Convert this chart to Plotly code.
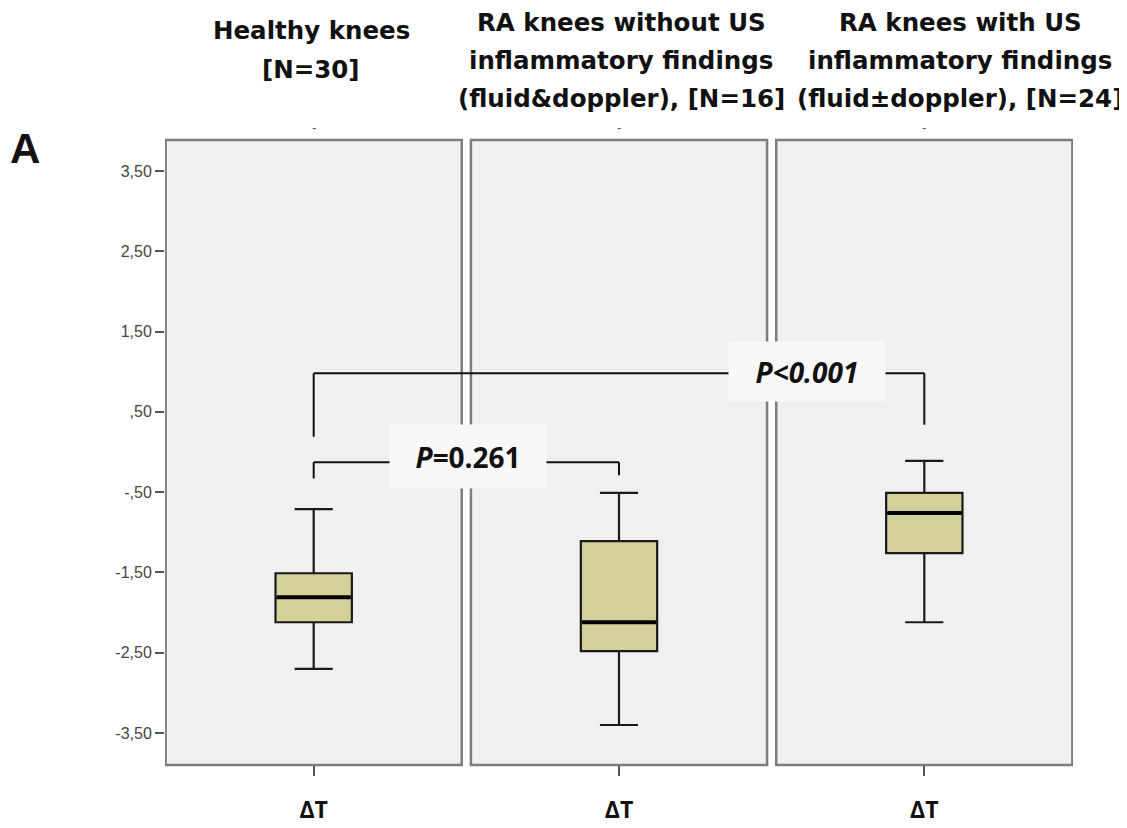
import plotly.graph_objects as go

# ---- data ----
groups = ["Healthy knees", "RA knees without US", "RA knees with US"]
title_lines = [
    ["Healthy knees", "[N=30]"],
    ["RA knees without US", "inflammatory findings", "(fluid&doppler), [N=16]"],
    ["RA knees with US", "inflammatory findings", "(fluid±doppler), [N=24]"],
]
x_labels = ["ΔT", "ΔT", "ΔT"]
upper_whisker = [-0.71, -0.51, -0.11]
q3 = [-1.51, -1.11, -0.51]
median = [-1.81, -2.12, -0.76]
q1 = [-2.12, -2.48, -1.26]
lower_whisker = [-2.70, -3.40, -2.12]

y_tickvals = [3.5, 2.5, 1.5, 0.5, -0.5, -1.5, -2.5, -3.5]
y_ticktext = ["3,50", "2,50", "1,50", ",50", "-,50", "-1,50", "-2,50", "-3,50"]

# comparisons: (group a, group b, bracket height, drop a, drop b, label, label x, label y, box h)
comparisons = [
    (0, 2, 0.98, 0.19, 0.34, "<b><i>P&lt;0.001</i></b>", 1.616, 1.0, 57),
    (0, 1, -0.126, -0.33, -0.29, "<b><i>P=</i>0.261</b>", 0.505, -0.06, 61),
]

# ---- layout geometry (window pixel targets; page has an 8px body margin) ----
OFF = 8
W, H = 1119, 820
PL, PR, PT, PB = 165, 1073, 140, 765       # plot area in window pixels
ML, MT = PL - OFF, PT - OFF
MR = W - (PR - OFF)
MB = H - (PB - OFF)
BOX_W = 0.25
HALF_PANEL = 0.485

def py(p):
    return (PB - p) / (PB - PT)

def px(p):
    return (p - PL) / (PR - PL)

fig = go.Figure()

BOX_FILL = "#d5d19b"
for i, g in enumerate(groups):
    fig.add_trace(go.Box(
        x=[i], q1=[q1[i]], median=[median[i]], q3=[q3[i]],
        lowerfence=[lower_whisker[i]], upperfence=[upper_whisker[i]],
        width=BOX_W, whiskerwidth=0.5, fillcolor=BOX_FILL,
        line=dict(color="#1a1a1a", width=2.2), boxpoints=False,
        name=g, showlegend=False, hoverinfo="skip",
    ))

shapes = []
for i in range(len(groups)):
    shapes.append(dict(type="rect", xref="x", yref="paper", x0=i - HALF_PANEL, x1=i + HALF_PANEL,
                       y0=0, y1=1, fillcolor="#f0f0f0", line=dict(color="#7d7d7d", width=2.5),
                       layer="below"))
    shapes.append(dict(type="line", xref="x", yref="y", x0=i - BOX_W / 2 + 0.004, x1=i + BOX_W / 2 - 0.004,
                       y0=median[i], y1=median[i], line=dict(color="black", width=4)))

annotations = []
for a, b, h, da, db, label, lx, ly, bh in comparisons:
    for (x0, x1, y0, y1) in [(a, a, da, h), (a, b, h, h), (b, b, h, db)]:
        shapes.append(dict(type="line", xref="x", yref="y", x0=x0, x1=x1, y0=y0, y1=y1,
                           line=dict(color="#111", width=2)))
    annotations.append(dict(x=lx, y=ly, xref="x", yref="y", text=label, showarrow=False,
                            font=dict(family="Open Sans", size=28, color="#111"),
                            bgcolor="#f8f8f8", width=154, height=bh, align="center"))

# column titles
title_cx = [311, 621, 960]
line_y = {2: [30, 69], 3: [23, 61, 99]}
for i, lines in enumerate(title_lines):
    ys = line_y[len(lines)]
    for t, yy in zip(lines, ys):
        annotations.append(dict(x=px(title_cx[i]), y=py(yy), xref="paper", yref="paper",
                                text="<b>" + t + "</b>",
                                showarrow=False, yanchor="middle", xanchor="center",
                                font=dict(family="DejaVu Sans", size=24.5, color="#111")))
    annotations.append(dict(x=i, y=py(127), xref="x", yref="paper", text="-", showarrow=False,
                            yanchor="middle", font=dict(family="Liberation Sans", size=13, color="#555")))

annotations.append(dict(x=px(25), y=py(148), xref="paper", yref="paper", text="<b>A</b>",
                        showarrow=False, yanchor="middle", xanchor="center",
                        font=dict(family="Liberation Sans", size=42, color="#111")))

fig.update_layout(
    width=W, height=H,
    margin=dict(l=ML, r=MR, t=MT, b=MB, pad=0, autoexpand=False),
    paper_bgcolor="white", plot_bgcolor="white",
    shapes=shapes, annotations=annotations,
    showlegend=False,
)
fig.update_xaxes(
    range=[-0.487, 2.487], tickvals=list(range(len(groups))),
    ticktext=["<b>" + t + "</b>" for t in x_labels],
    ticks="outside", ticklen=10, tickwidth=1.5, tickcolor="#555",
    tickfont=dict(family="Open Sans", size=23, color="#111"),
    ticklabelstandoff=14, automargin=False,
    showgrid=False, zeroline=False, showline=False,
)
fig.update_yaxes(
    range=[-3.898, 3.886], tickvals=y_tickvals, ticktext=y_ticktext,
    ticks="outside", ticklen=9, tickwidth=1.5, tickcolor="#555",
    tickfont=dict(family="Liberation Sans", size=16, color="#444"),
    automargin=False,
    showgrid=False, zeroline=False, showline=False,
)

fig.write_html("out.html")
